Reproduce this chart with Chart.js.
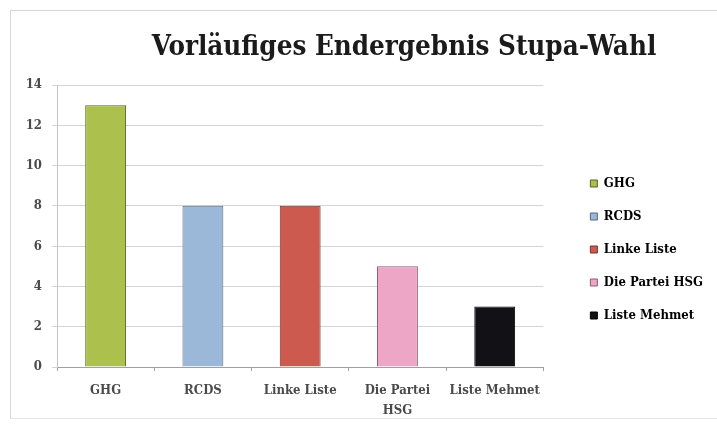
<!DOCTYPE html>
<html>
<head>
<meta charset="utf-8">
<script src="https://cdn.jsdelivr.net/npm/chart.js@4"></script>
<style>
  html, body { margin: 0; padding: 0; background: #fff; }
  #wrap { position: relative; width: 717px; height: 424px; }
  #frame {
    position: absolute; left: 10px; top: 10px; width: 707px; height: 409px;
    border-left: 1px solid #d6d6d6; border-top: 1px solid #d6d6d6; border-bottom: 1px solid #e4e4e4;
    box-sizing: border-box;
  }
  canvas { position: absolute; left: 0; top: 0; }
</style>
</head>
<body>
<div id="wrap">
  <div id="frame"></div>
  <canvas id="chart" width="717" height="424"></canvas>
</div>
<script>
// Daten
const titleText = 'Vorläufiges Endergebnis Stupa-Wahl';
const parties = ['GHG', 'RCDS', 'Linke Liste', 'Die Partei HSG', 'Liste Mehmet'];
const tickLabels = ['GHG', 'RCDS', 'Linke Liste', ['Die Partei', 'HSG'], 'Liste Mehmet'];
const seats = [13, 8, 8, 5, 3];
const yMin = 0, yMax = 14, yStep = 2;

const fillColors = ['#abc04d', '#9cb8d9', '#cd5a4f', '#eea6c6', '#111116'];
const borderColors = ['#56632a', '#56697f', '#7a3029', '#8a5c70', '#000000'];
const serif = '"DejaVu Serif Condensed", "DejaVu Serif", serif';

// Titel (etwas rechts von der Mitte, wie im Original)
const titlePlugin = {
  id: 'fixedTitle',
  afterDraw(chart) {
    const ctx = chart.ctx;
    ctx.save();
    ctx.font = 'bold 27.5px ' + serif;
    ctx.fillStyle = '#1b1b1b';
    ctx.textAlign = 'center';
    ctx.textBaseline = 'alphabetic';
    ctx.fillText(titleText, 404, 55);
    ctx.restore();
  }
};

new Chart(document.getElementById('chart').getContext('2d'), {
  type: 'bar',
  data: {
    labels: tickLabels,
    datasets: [{
      data: seats,
      backgroundColor: fillColors,
      borderColor: borderColors,
      borderWidth: 1,
      categoryPercentage: 1,
      barPercentage: 0.42
    }]
  },
  options: {
    responsive: false,
    animation: false,
    layout: { padding: { left: 10, top: 85, right: 4, bottom: 10 } },
    plugins: {
      legend: {
        position: 'right',
        labels: {
          boxWidth: 7,
          boxHeight: 7,
          padding: 20,
          color: '#3a3a3a',
          font: { family: serif, size: 13, weight: 'bold' },
          generateLabels: () => parties.map((p, i) => ({
            text: p,
            fillStyle: fillColors[i],
            strokeStyle: borderColors[i],
            lineWidth: 1,
            hidden: false,
            index: i,
            datasetIndex: 0
          }))
        }
      },
      tooltip: { enabled: false }
    },
    scales: {
      x: {
        grid: { drawOnChartArea: false, tickLength: 4, color: '#a0a0a0' },
        border: { color: '#a0a0a0' },
        ticks: {
          color: '#4a4a4a',
          font: { family: serif, size: 13, weight: 'bold', lineHeight: 1.5 },
          padding: 10,
          maxRotation: 0,
          autoSkip: false
        },
        afterFit(scale) { scale.height = 47; }
      },
      y: {
        min: yMin,
        max: yMax,
        ticks: {
          stepSize: yStep,
          color: '#4a4a4a',
          font: { family: serif, size: 13, weight: 'bold' },
          padding: 10
        },
        grid: { color: '#d4d4d4', tickLength: 5 },
        border: { color: '#c4c4c4' },
        afterFit(scale) { scale.width = 47; }
      },
      // unsichtbare Achse als Abstand zwischen Plotfläche und Legende
      spacer: {
        type: 'linear',
        axis: 'y',
        position: 'right',
        display: false,
        afterFit(scale) { scale.width = 27; }
      }
    }
  },
  plugins: [titlePlugin]
});
</script>
</body>
</html>
